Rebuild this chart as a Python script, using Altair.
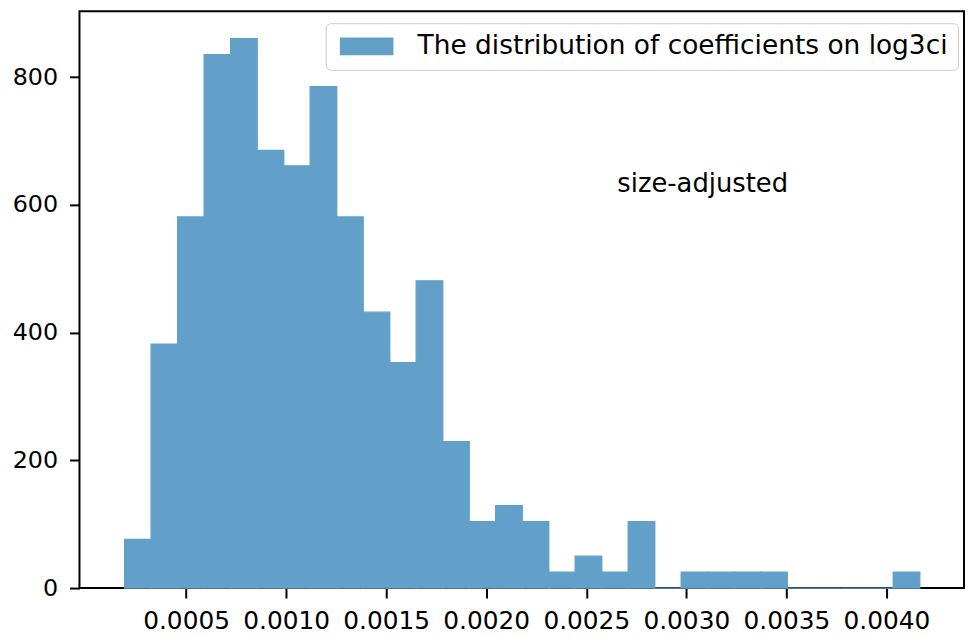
import altair as alt
import numpy as np
import pandas as pd

# ---- data ----
counts = [76, 382, 581, 835, 860, 685, 661, 785, 581, 432,
          353, 481, 229, 104, 129, 104, 25, 50, 25, 104,
          0, 25, 25, 25, 25, 0, 0, 0, 0, 25]
bin_lo = 0.000193     # left edge of the first bin
bin_hi = 0.0041667    # right edge of the last bin
x_ticks = [0.0005, 0.0010, 0.0015, 0.0020, 0.0025, 0.0030, 0.0035, 0.0040]
y_ticks = [0, 200, 400, 600, 800]
series_name = "The distribution of coefficients on log3ci"
note_text = ["size-adjusted"]
note_x = [0.002655]
note_y = [620]

edges = np.linspace(bin_lo, bin_hi, len(counts) + 1)
hist = pd.DataFrame({
    "start": edges[:-1],
    "end": edges[1:],
    "count": counts,
    "base": [0] * len(counts),
    "series": [series_name] * len(counts),
})
notes = pd.DataFrame({"x": note_x, "y": note_y, "text": note_text})

FONT = "DejaVu Sans"
BAR = "#62a0ca"

x_scale = alt.Scale(domain=[-0.000008, 0.004363], nice=False, zero=False)
y_scale = alt.Scale(domain=[0, 903], nice=False, zero=True)
x_axis = alt.Axis(values=x_ticks, format=".4f", title=None,
                  labelPadding=11, labelFlush=False, labelOverlap=False)
y_axis = alt.Axis(values=y_ticks, format="d", title=None,
                  labelPadding=12, labelOverlap=False, labelFontSize=24)

bars = alt.Chart(hist).mark_bar(
    stroke=BAR, strokeWidth=1.4, opacity=1, orient="vertical"
).encode(
    x=alt.X("start:Q", scale=x_scale, axis=x_axis),
    x2="end:Q",
    y=alt.Y("count:Q", scale=y_scale, axis=y_axis),
    y2="base:Q",
    color=alt.Color("series:N",
                    scale=alt.Scale(domain=[series_name], range=[BAR]),
                    legend=alt.Legend(
                        title=None, orient="none", legendX=248, legendY=12,
                        symbolType="M-3,-1H3V1H-3Z", symbolSize=324,
                        symbolOffset=18, symbolStrokeWidth=0, symbolOpacity=1,
                        labelOffset=38, labelFontSize=26.6, labelFont=FONT,
                        labelColor="black", labelLimit=2000, padding=10,
                        strokeColor="#cccccc", fillColor="white",
                        cornerRadius=5)),
)

note = alt.Chart(notes).mark_text(
    align="left", baseline="alphabetic", fontSize=26, font=FONT, color="black"
).encode(
    x=alt.X("x:Q", scale=x_scale, axis=x_axis),
    y=alt.Y("y:Q", scale=y_scale, axis=y_axis),
    text="text:N",
)

chart = alt.layer(bars, note).properties(
    width=891, height=581,
    autosize=alt.AutoSizeParams(type="none"),
    padding={"left": 72, "top": 1, "right": 1, "bottom": 52},
).configure_view(
    stroke="black", strokeWidth=2
).configure_axis(
    domain=False, grid=False, labelFont=FONT, labelFontSize=25,
    labelColor="black", tickColor="black", tickWidth=2, tickSize=10,
)

chart.save("out.html", embed_options={"renderer": "svg", "actions": False})
